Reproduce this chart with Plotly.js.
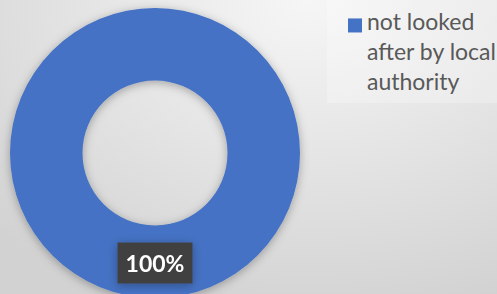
<!DOCTYPE html>
<html>
<head>
<meta charset="utf-8">
<script src="https://cdn.plot.ly/plotly-3.0.1.min.js"></script>
<style>
  html, body { margin:0; padding:0; width:497px; height:294px; overflow:hidden; }
  body { background: radial-gradient(ellipse 90% 110% at 62% 0%, #f6f6f6 0%, #e6e6e6 45%, #d2d2d2 100%); }
  #chart { width:497px; height:306px; }
</style>
</head>
<body>
<div id="chart"></div>
<script>
const categories = ["not looked<br>after by local<br>authority"];
const values = [100];
const colors = ["#4472C4"];

const total = values.reduce((a, b) => a + b, 0);
const pctLabel = Math.round(values[0] / total * 100) + "%";

const W = 497, H = 306;
const data = [{
  type: "pie",
  labels: categories,
  values: values,
  hole: 0.5,
  sort: false,
  direction: "clockwise",
  marker: { colors: colors, line: { width: 0 } },
  textinfo: "none",
  hoverinfo: "none",
  domain: { x: [10 / W, 300 / W], y: [8 / H, 298 / H] }
}];

const layout = {
  width: W, height: H,
  margin: { l: 0, r: 0, t: 0, b: 0, pad: 0, autoexpand: false },
  paper_bgcolor: "rgba(0,0,0,0)",
  plot_bgcolor: "rgba(0,0,0,0)",
  font: { family: "Lato, 'Open Sans', sans-serif", color: "#595959" },
  showlegend: true,
  legend: {
    x: 327 / W, y: 1, xanchor: "left", yanchor: "top",
    valign: "top",
    bgcolor: "rgba(255,255,255,0.25)",
    font: { size: 23, color: "#595959", family: "Lato, 'Open Sans', sans-serif" },
    itemwidth: 30,
    tracegroupgap: 0
  },
  annotations: [{
    text: "<b>" + pctLabel + "</b>",
    xref: "paper", yref: "paper",
    x: 155 / W, y: (H - 263) / H,
    xanchor: "center", yanchor: "middle",
    showarrow: false,
    bgcolor: "#404040",
    borderpad: 5,
    width: 64, height: 30,
    font: { size: 23, color: "#ffffff", family: "Lato, 'Open Sans', sans-serif" }
  }]
};

Plotly.newPlot("chart", data, layout, { displayModeBar: false, staticPlot: true }).then(gd => {
  const svg = gd.querySelector(".main-svg");
  const ns = "http://www.w3.org/2000/svg";
  let defs = svg.querySelector("defs");
  if (!defs) { defs = document.createElementNS(ns, "defs"); svg.insertBefore(defs, svg.firstChild); }
  const f = document.createElementNS(ns, "filter");
  f.setAttribute("id", "donutShadow");
  f.setAttribute("x", "-20%"); f.setAttribute("y", "-20%");
  f.setAttribute("width", "140%"); f.setAttribute("height", "140%");
  const ds = document.createElementNS(ns, "feDropShadow");
  ds.setAttribute("dx", "0"); ds.setAttribute("dy", "2");
  ds.setAttribute("stdDeviation", "5");
  ds.setAttribute("flood-color", "#000"); ds.setAttribute("flood-opacity", "0.3");
  f.appendChild(ds); defs.appendChild(f);
  gd.querySelectorAll(".pielayer .trace").forEach(g => g.setAttribute("filter", "url(#donutShadow)"));
  const ann = gd.querySelector(".annotation");
  if (ann) ann.setAttribute("filter", "url(#donutShadow)");
  gd.querySelectorAll(".legend .legendpoints path").forEach(p => {
    p.setAttribute("transform", "translate(28,4) scale(1.17)");
  });
});
</script>
</body>
</html>
